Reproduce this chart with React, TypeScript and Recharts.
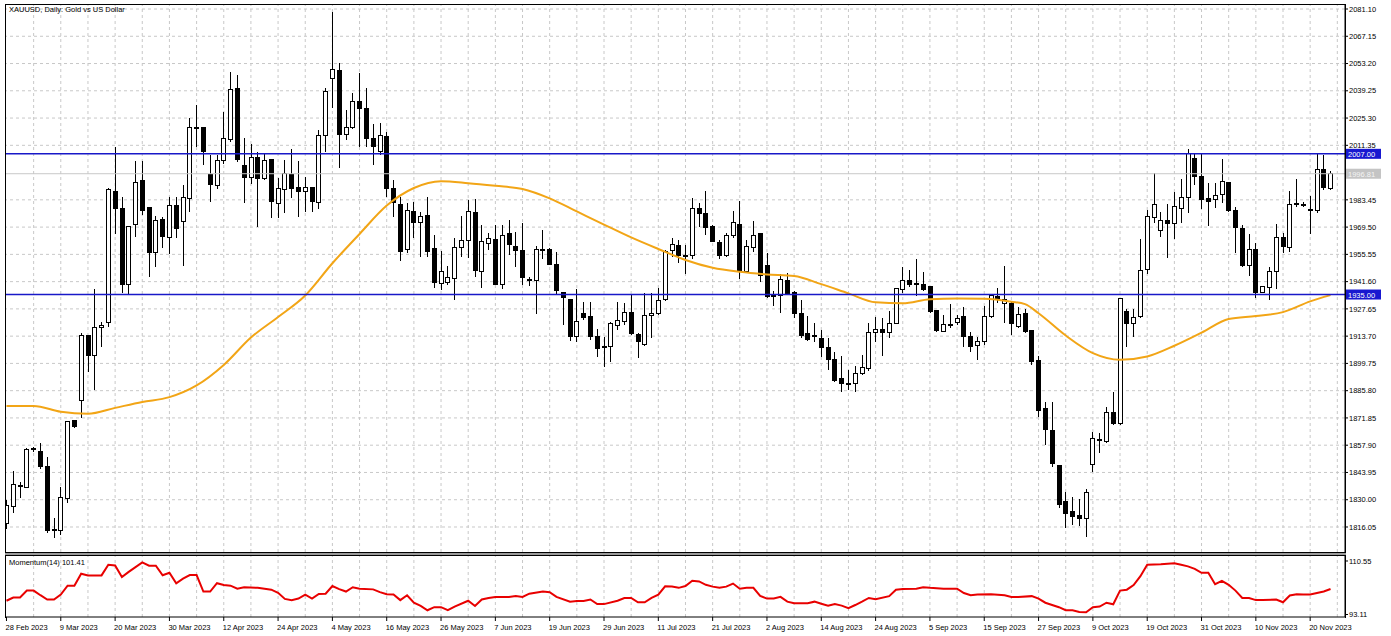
import React from 'react';
import { ComposedChart, LineChart, Bar, Line, XAxis, YAxis, ReferenceLine } from 'recharts';

// date labels shown every 8 bars
const tickLabels = [
  '28 Feb 2023', '9 Mar 2023', '20 Mar 2023', '30 Mar 2023', '12 Apr 2023', '24 Apr 2023', '4 May 2023',
  '16 May 2023', '26 May 2023', '7 Jun 2023', '19 Jun 2023', '29 Jun 2023', '11 Jul 2023', '21 Jul 2023',
  '2 Aug 2023', '14 Aug 2023', '24 Aug 2023', '5 Sep 2023', '15 Sep 2023', '27 Sep 2023', '9 Oct 2023',
  '19 Oct 2023', '31 Oct 2023', '10 Nov 2023', '20 Nov 2023',
];

const priceTicks = [
  2081.10, 2067.15, 2053.20, 2039.25, 2025.30, 2011.35, 1983.45, 1969.50, 1955.55, 1941.60,
  1927.65, 1913.70, 1899.75, 1885.80, 1871.85, 1857.90, 1843.95, 1830.00, 1816.05,
];
const momentumTicks = [110.55, 93.11];

const opens = [
  1818, 1826.4, 1837.5, 1836.3, 1855.9, 1854.9, 1847.2, 1815.0, 1814.0, 1830.7,
  1870.3, 1881.0, 1913.8, 1904.0, 1918.2, 1920.6, 1987.6, 1979.1, 1939.9, 1970.6,
  1993.3, 1979.4, 1956.6, 1973.6, 1964.1, 1980.3, 1972.3, 1984.2, 2020.0, 2020.7,
  1996.5, 1991.0, 2003.8, 2014.1, 2040.5, 2000.8, 1994.8, 2005.0, 1994.4, 2004.3,
  1981.6, 1988.8, 1996.5, 1989.7, 1987.6, 1989.7, 1982.1, 2016.6, 2045.3, 2049.5,
  2016.9, 2020.4, 2033.7, 2030.3, 2014.9, 2008.1, 2015.8, 1989.0, 1981.1, 1957.8,
  1977.7, 1971.9, 1975.3, 1958.3, 1940.7, 1941.2, 1943.3, 1958.9, 1962.4, 1977.0,
  1946.7, 1961.2, 1963.4, 1940.2, 1966.3, 1959.8, 1957.4, 1942.9, 1942.1, 1957.6,
  1957.8, 1950.6, 1936.1, 1932.5, 1913.4, 1925.4, 1923.6, 1913.7, 1908.0, 1908.3,
  1918.9, 1921.1, 1925.7, 1914.8, 1909.2, 1924.5, 1925.4, 1932.2, 1957.3, 1960.3,
  1954.9, 1954.9, 1978.8, 1976.5, 1969.7, 1961.7, 1954.9, 1965.1, 1970.9, 1946.7,
  1959.0, 1966.3, 1950.1, 1934.7, 1934.4, 1942.4, 1936.1, 1925.4, 1915.1, 1913.4,
  1912.6, 1908.0, 1901.8, 1892.1, 1889.5, 1889.5, 1894.7, 1897.2, 1915.5, 1917.2,
  1915.5, 1920.2, 1937.8, 1942.4, 1940.2, 1940.2, 1939.0, 1926.6, 1916.0, 1919.3,
  1920.8, 1923.7, 1913.4, 1908.8, 1910.9, 1923.7, 1933.9, 1930.5, 1930.5, 1918.5,
  1925.4, 1916.5, 1901.1, 1876.7, 1865.3, 1847.7, 1829.0, 1823.9, 1822.1, 1820.4,
  1848.2, 1860.9, 1859.7, 1874.5, 1869.0, 1926.2, 1920.0, 1923.7, 1947.9, 1974.5,
  1967.7, 1973.1, 1971.1, 1979.1, 1984.7, 2004.7, 1995.6, 1984.2, 1983.7, 1986.4,
  1992.2, 1977.9, 1968.9, 1949.6, 1957.8, 1935.9, 1938.7, 1946.7, 1964.3, 1959.1,
  1981.3, 1980.8, 1978.6, 1977.9, 1999.1, 1989.3,
];
const highs = [
  1830, 1844.8, 1839.2, 1856.3, 1856.8, 1858.8, 1852.0, 1820.4, 1836.3, 1870.3,
  1870.6, 1915.1, 1914.3, 1937.6, 1921.1, 1989.3, 2010.3, 1985.1, 1970.0, 2003.5,
  2003.5, 1980.0, 1975.2, 1974.8, 1984.7, 1985.0, 1991.0, 2025.2, 2032.0, 2020.9,
  2006.4, 2006.4, 2028.2, 2048.7, 2047.3, 2014.9, 2011.8, 2008.1, 2007.2, 2004.6,
  1994.8, 2003.8, 2009.4, 2003.3, 1995.3, 1990.2, 2019.2, 2040.5, 2079.4, 2053.3,
  2029.4, 2037.9, 2048.2, 2040.8, 2022.1, 2022.6, 2018.3, 1993.6, 1985.0, 1981.6,
  1982.5, 1977.4, 1985.0, 1965.4, 1957.2, 1949.7, 1963.7, 1975.3, 1983.3, 1983.9,
  1970.6, 1966.3, 1970.6, 1970.6, 1973.1, 1967.1, 1971.4, 1943.8, 1959.8, 1968.0,
  1958.6, 1956.7, 1936.5, 1932.8, 1937.6, 1931.3, 1931.3, 1917.2, 1913.4, 1921.1,
  1931.3, 1930.5, 1935.3, 1915.1, 1935.6, 1935.6, 1938.2, 1957.8, 1963.7, 1962.9,
  1960.3, 1984.6, 1981.7, 1988.0, 1970.6, 1962.9, 1966.3, 1977.7, 1982.9, 1962.9,
  1972.6, 1966.6, 1956.1, 1936.8, 1945.3, 1945.8, 1936.8, 1932.2, 1924.2, 1920.2,
  1916.8, 1912.6, 1905.7, 1903.5, 1896.4, 1898.4, 1904.0, 1920.6, 1923.7, 1922.8,
  1926.6, 1938.5, 1949.2, 1947.5, 1953.2, 1946.3, 1939.3, 1926.9, 1924.5, 1929.9,
  1924.5, 1928.8, 1915.6, 1913.4, 1929.3, 1934.8, 1938.2, 1949.8, 1931.3, 1928.8,
  1927.4, 1916.8, 1903.5, 1880.1, 1880.1, 1848.0, 1834.1, 1831.2, 1830.2, 1835.3,
  1864.8, 1864.3, 1877.6, 1885.3, 1933.3, 1927.4, 1927.4, 1963.2, 1978.2, 1997.3,
  1977.4, 1981.3, 1987.6, 1993.9, 2009.3, 2007.6, 2007.6, 1991.9, 1991.9, 2004.2,
  1992.5, 1980.0, 1970.6, 1966.0, 1961.2, 1939.3, 1949.2, 1971.1, 1966.3, 1988.1,
  1993.9, 1982.5, 1985.4, 2007.2, 2006.4, 1998.4,
];
const lows = [
  1815, 1823.3, 1830.7, 1835.8, 1854.6, 1845.5, 1812.8, 1810.2, 1811.9, 1828.1,
  1866.8, 1871.6, 1895.5, 1886.1, 1907.9, 1918.5, 1966.0, 1935.6, 1934.7, 1964.6,
  1975.7, 1944.1, 1949.2, 1958.6, 1955.6, 1964.0, 1949.7, 1977.4, 2010.6, 2001.3,
  1982.2, 1989.0, 2001.6, 2013.2, 2003.0, 1981.6, 1991.4, 1969.7, 1993.6, 1974.3,
  1974.0, 1976.5, 1984.2, 1974.8, 1977.4, 1977.4, 1978.7, 2008.1, 2030.3, 1999.6,
  2014.1, 2019.7, 2010.6, 2010.6, 2001.3, 2006.4, 1985.0, 1974.8, 1952.1, 1956.1,
  1964.1, 1954.3, 1954.3, 1938.5, 1937.3, 1939.8, 1932.2, 1954.3, 1953.5, 1944.0,
  1938.1, 1958.0, 1939.8, 1938.0, 1955.2, 1949.3, 1939.9, 1939.4, 1925.0, 1953.0,
  1950.0, 1935.0, 1919.4, 1911.0, 1910.9, 1922.0, 1911.7, 1903.2, 1898.1, 1900.6,
  1916.8, 1919.4, 1914.3, 1902.3, 1908.6, 1912.6, 1924.5, 1931.8, 1954.4, 1950.9,
  1945.3, 1953.0, 1969.7, 1965.4, 1961.7, 1953.1, 1954.3, 1963.7, 1942.9, 1945.8,
  1956.9, 1941.6, 1933.4, 1929.3, 1925.4, 1934.7, 1923.1, 1913.0, 1911.0, 1910.8,
  1903.2, 1896.5, 1890.0, 1885.3, 1886.1, 1885.3, 1893.8, 1896.0, 1910.9, 1903.5,
  1912.6, 1919.7, 1935.6, 1939.0, 1934.4, 1936.8, 1925.4, 1915.6, 1915.6, 1917.7,
  1919.4, 1908.3, 1905.7, 1901.5, 1909.0, 1923.0, 1930.5, 1920.2, 1914.3, 1917.7,
  1915.5, 1898.9, 1872.5, 1858.0, 1846.9, 1826.0, 1815.3, 1817.0, 1816.5, 1811.1,
  1844.3, 1853.7, 1859.0, 1868.0, 1868.0, 1908.3, 1913.1, 1923.0, 1945.5, 1971.7,
  1964.2, 1953.5, 1963.2, 1971.8, 1976.9, 1991.0, 1978.6, 1970.1, 1979.1, 1981.6,
  1977.0, 1956.1, 1949.0, 1944.5, 1933.0, 1935.6, 1932.2, 1937.6, 1956.1, 1957.0,
  1979.9, 1979.6, 1966.0, 1976.5, 1988.5, 1988.5,
];
const closes = [
  1827, 1838.0, 1837.0, 1855.8, 1856.2, 1846.9, 1814.5, 1814.5, 1831.0, 1869.9,
  1867.4, 1913.8, 1904.0, 1918.2, 1919.4, 1988.5, 1979.1, 1939.9, 1969.7, 1992.2,
  1977.9, 1956.6, 1973.1, 1964.6, 1980.3, 1968.9, 1984.5, 2020.4, 2020.6, 2008.1,
  1991.4, 2003.8, 2014.9, 2040.0, 2004.1, 1994.8, 2005.0, 1994.4, 2003.8, 1982.5,
  1989.3, 1997.0, 1989.3, 1987.6, 1989.7, 1982.5, 2016.3, 2039.1, 2049.9, 2017.0,
  2020.4, 2034.0, 2030.3, 2014.6, 2010.6, 2016.3, 1989.0, 1982.1, 1957.2, 1978.2,
  1971.9, 1974.8, 1956.9, 1941.2, 1946.7, 1943.6, 1958.9, 1962.9, 1977.4, 1947.5,
  1962.0, 1963.7, 1940.2, 1965.4, 1960.8, 1957.4, 1943.8, 1942.1, 1958.1, 1957.8,
  1950.6, 1937.0, 1933.5, 1913.4, 1921.1, 1923.3, 1913.7, 1907.5, 1908.3, 1920.2,
  1921.6, 1925.7, 1915.1, 1910.9, 1924.5, 1925.4, 1931.8, 1956.9, 1960.7, 1954.9,
  1955.0, 1979.1, 1976.5, 1969.2, 1962.0, 1954.9, 1965.1, 1971.9, 1947.5, 1959.5,
  1965.1, 1944.6, 1933.9, 1933.9, 1942.9, 1935.6, 1925.4, 1913.9, 1912.2, 1914.2,
  1908.0, 1901.8, 1891.2, 1889.5, 1889.6, 1894.7, 1897.6, 1915.5, 1917.2, 1915.5,
  1920.2, 1938.2, 1942.4, 1939.9, 1940.4, 1937.8, 1926.2, 1916.8, 1919.7, 1919.5,
  1922.5, 1913.4, 1908.3, 1910.9, 1923.7, 1934.4, 1932.2, 1932.2, 1920.2, 1925.0,
  1916.0, 1900.6, 1875.5, 1865.7, 1848.6, 1827.8, 1823.0, 1821.6, 1820.4, 1833.6,
  1861.4, 1860.2, 1874.5, 1869.0, 1933.0, 1920.0, 1923.3, 1947.5, 1974.8, 1981.3,
  1973.1, 1971.1, 1979.8, 1984.7, 2007.3, 1995.6, 1983.4, 1982.5, 1985.9, 1992.7,
  1977.9, 1969.4, 1949.6, 1957.8, 1935.9, 1939.0, 1946.7, 1964.3, 1959.5, 1981.3,
  1981.5, 1981.0, 1977.9, 1999.1, 1989.8, 1996.8,
];

// moving average, read at bar index
const maPoints: [number, number][] = [
  [0, 1878], [4, 1878], [8, 1875], [12, 1874], [16, 1877], [20, 1880], [24, 1882.5], [28, 1888.5],
  [32, 1899], [36, 1913], [40, 1923.5], [44, 1934.5], [48, 1951], [52, 1966], [56, 1980.5], [60, 1989.5],
  [64, 1993], [68, 1992], [72, 1990.6], [76, 1989], [80, 1984.2], [84, 1977.5], [88, 1970.8], [92, 1964.2],
  [96, 1958.3], [100, 1952.7], [104, 1948.7], [108, 1946.6], [112, 1945.3], [116, 1944.5], [120, 1940.3],
  [124, 1935.6], [128, 1931], [132, 1930.5], [136, 1932.6], [140, 1933], [144, 1932.8], [148, 1931.3],
  [150, 1930.1], [152, 1925.4], [156, 1914], [160, 1905], [164, 1901.6], [168, 1903.3], [172, 1908.8],
  [176, 1915.5], [180, 1922.5], [184, 1924], [188, 1926], [192, 1931.5], [195, 1934.7],
];

// Momentum(14), read at bar index
const momentumPoints: [number, number][] = [
  [0, 97.6], [1, 98.65], [2, 98.65], [3, 100.9], [4, 100.9], [5, 99.4], [6, 98.0], [7, 98.0], [8, 99.6],
  [9, 102.5], [10, 102.5], [11, 106.4], [12, 105.85], [14, 105.85], [15, 109.3], [16, 109.1], [17, 105.3],
  [18, 107.0], [20, 110.1], [21, 109.0], [22, 109.0], [23, 105.9], [24, 106.7], [25, 103.3], [26, 104.8],
  [27, 105.95], [28, 105.95], [29, 100.6], [30, 100.6], [31, 103.3], [32, 102.7], [33, 102.5], [34, 101.5],
  [35, 102.0], [37, 101.8], [39, 101.2], [40, 100.2], [41, 98.2], [42, 97.8], [43, 98.3], [44, 99.6],
  [45, 98.3], [46, 99.8], [47, 99.9], [48, 102.4], [49, 101.4], [50, 100.6], [51, 102.0], [52, 101.5],
  [54, 101.3], [55, 100.4], [56, 99.7], [57, 99.6], [58, 97.8], [59, 99.4], [60, 97.0], [61, 95.9],
  [62, 94.5], [63, 95.5], [64, 95.5], [65, 94.5], [66, 95.7], [68, 97.6], [69, 95.9], [70, 98.0],
  [71, 98.5], [72, 98.85], [74, 98.85], [75, 99.1], [76, 98.85], [77, 99.9], [79, 100.6], [80, 100.4],
  [81, 98.85], [83, 97.3], [84, 97.5], [85, 97.5], [86, 98.0], [87, 96.5], [88, 96.5], [90, 97.6],
  [91, 98.5], [92, 98.5], [93, 97.1], [94, 97.1], [95, 98.5], [96, 99.6], [97, 102.3], [98, 102.2],
  [99, 101.8], [100, 102.4], [101, 104.1], [102, 103.9], [103, 102.8], [104, 102.2], [105, 101.8],
  [106, 102.2], [107, 103.2], [108, 101.5], [109, 101.8], [110, 101.8], [111, 99.2], [112, 98.3],
  [113, 98.3], [114, 98.85], [115, 97.3], [116, 96.8], [118, 96.8], [119, 97.3], [120, 96.6], [121, 96.0],
  [122, 96.5], [123, 96.0], [124, 95.2], [125, 96.2], [126, 97.3], [127, 98.5], [128, 98.1], [130, 99.1],
  [131, 101.2], [132, 101.4], [134, 101.5], [135, 102.0], [136, 101.8], [138, 101.5], [140, 101.5],
  [141, 100.1], [142, 99.4], [143, 99.6], [145, 99.7], [147, 99.4], [148, 98.85], [149, 98.85],
  [151, 99.1], [152, 98.3], [153, 96.95], [155, 95.5], [156, 94.5], [157, 94.5], [158, 93.95],
  [159, 93.85], [160, 95.5], [161, 95.7], [162, 96.95], [163, 96.45], [164, 100.9], [165, 101.2],
  [166, 102.7], [167, 105.6], [168, 109.3], [170, 109.5], [172, 109.8], [173, 109.3], [174, 108.8],
  [175, 108.0], [176, 106.7], [177, 106.7], [178, 103.0], [179, 104.1], [180, 102.8], [181, 100.9],
  [182, 98.5], [183, 98.5], [184, 97.8], [185, 97.8], [187, 98.0], [188, 97.1], [189, 99.3], [190, 99.7],
  [191, 99.6], [192, 99.6], [193, 100.1], [194, 100.6], [195, 101.41],
];

const levels = [2007.0, 1935.0];
const lastPrice = 1996.81;

const candles = opens.map((o, i) => ({ i, o, h: highs[i], l: lows[i], c: closes[i], range: [lows[i], highs[i]] }));
const maData = maPoints.map(([i, v]) => ({ i, ma: v }));
const momData = momentumPoints.map(([i, v]) => ({ i, mom: v }));
const gridTicks = Array.from({ length: 50 }, (_, k) => k * 4);

const X_DOMAIN: [number, number] = [-0.07, 197.13];
const PRICE_DOMAIN: [number, number] = [1803.25, 2083.15];
const MOM_DOMAIN: [number, number] = [92.3, 112.5];
const FONT = '"Liberation Sans", Arial, sans-serif';
const GRID = '#c8c8c8';

const Candle = (props: any) => {
  const { x, y, width, height, payload } = props;
  if (!payload || height == null) return null;
  const { o, h, l, c } = payload;
  const top = height < 0 ? y + height : y;
  const hh = Math.abs(height);
  const cx = Math.floor(x + width / 2) + 0.5;
  const k = h > l ? hh / (h - l) : 0;
  const py = (v: number) => top + (h - v) * k;
  const bTop = py(Math.max(o, c));
  const bBot = py(Math.min(o, c));
  return (
    <g shapeRendering="crispEdges">
      <line x1={cx} x2={cx} y1={top} y2={top + hh} stroke="#000" />
      <rect x={cx - 2} y={bTop} width={4} height={Math.max(bBot - bTop, 0.8)} fill={c >= o ? '#fff' : '#000'} stroke="#000" />
    </g>
  );
};

const PriceTag = ({ viewBox, text, bg, color }: any) => {
  if (!viewBox) return null;
  const x = viewBox.x + viewBox.width + 1;
  const y = viewBox.y;
  return (
    <g>
      <rect x={x} y={y - 5} width={35} height={10} fill={bg} />
      <text x={x + 2} y={y + 3} fontSize={7.5} fill={color} fontFamily={FONT}>{text}</text>
    </g>
  );
};

const DateTick = ({ x, y, payload }: any) => {
  const v = payload.value;
  if (v % 8 !== 0 || !tickLabels[v / 8]) return <g />;
  return (
    <g>
      <line x1={x} x2={x} y1={y} y2={y + 4} stroke="#000" />
      <text x={x - 1} y={y + 13} fontSize={7.5} fill="#000" fontFamily={FONT}>{tickLabels[v / 8]}</text>
    </g>
  );
};

// background layer: dotted grid drawn underneath the series
function GridLayer({ height, top, yDomain, yTicks, xHeight }: any) {
  return (
    <ComposedChart width={1391} height={height} data={candles} margin={{ top, right: 0, left: 6, bottom: 0 }}>
      <XAxis type="number" dataKey="i" domain={X_DOMAIN} ticks={gridTicks} allowDataOverflow interval={0}
        height={xHeight} tick={false} tickLine={false} axisLine={false} />
      <YAxis orientation="right" type="number" domain={yDomain} allowDataOverflow
        width={46} tick={false} tickLine={false} axisLine={false} />
      {yTicks.map((t: number) => (
        <ReferenceLine key={`h${t}`} y={t} stroke={GRID} strokeDasharray="3 3" />
      ))}
      {gridTicks.slice(1).map((t) => (
        <ReferenceLine key={`v${t}`} x={t} stroke={GRID} strokeDasharray="3 3" />
      ))}
    </ComposedChart>
  );
}

export default function App() {
  return (
    <div style={{ position: 'absolute', left: 0, top: 0, width: 1391, height: 636, background: '#fff', fontFamily: FONT }}>
      <div style={{ position: 'absolute', left: 0, top: 0 }}>
        <GridLayer height={553} top={5} yDomain={PRICE_DOMAIN} yTicks={priceTicks} xHeight={1} />
      </div>
      <div style={{ position: 'absolute', left: 0, top: 0 }}>
        <ComposedChart width={1391} height={553} data={candles} margin={{ top: 5, right: 0, left: 6, bottom: 0 }}>
          <XAxis type="number" dataKey="i" domain={X_DOMAIN} ticks={gridTicks} allowDataOverflow interval={0}
            height={1} tick={false} tickLine={false} axisLine={false} />
          <YAxis orientation="right" type="number" domain={PRICE_DOMAIN} ticks={priceTicks} allowDataOverflow
            interval={0} width={46} tickSize={3} tickMargin={1}
            tick={{ fontSize: 7.5, fill: '#000' }} tickFormatter={(v: number) => v.toFixed(2)}
            axisLine={{ stroke: '#000' }} tickLine={{ stroke: '#000' }} />
          <ReferenceLine y={lastPrice} stroke="#c8c8c8" strokeWidth={1}
            label={<PriceTag text={lastPrice.toFixed(2)} bg="#c4c4c4" color="#f4f4f4" />} />
          <Bar dataKey="range" barSize={5} shape={<Candle />} isAnimationActive={false} />
          <Line data={maData} dataKey="ma" type="monotone" stroke="#f2a516" strokeWidth={2} dot={false} isAnimationActive={false} />
          {levels.map((lv) => (
            <ReferenceLine key={lv} y={lv} stroke="#1818c8" strokeWidth={1.5}
              label={<PriceTag text={lv.toFixed(2)} bg="#1818d0" color="#fff" />} />
          ))}
        </ComposedChart>
      </div>
      <div style={{ position: 'absolute', left: 0, top: 553 }}>
        <GridLayer height={83} top={2} yDomain={MOM_DOMAIN} yTicks={[]} xHeight={19} />
      </div>
      <div style={{ position: 'absolute', left: 0, top: 553 }}>
        <LineChart width={1391} height={83} data={momData} margin={{ top: 2, right: 0, left: 6, bottom: 0 }}>
          <XAxis type="number" dataKey="i" domain={X_DOMAIN} ticks={gridTicks} allowDataOverflow interval={0}
            height={19} tick={<DateTick />} tickLine={false} tickSize={0} tickMargin={0} axisLine={{ stroke: '#000' }} />
          <YAxis orientation="right" type="number" domain={MOM_DOMAIN} ticks={momentumTicks} allowDataOverflow
            interval={0} width={46} tickSize={3} tickMargin={1}
            tick={{ fontSize: 7.5, fill: '#000' }} tickFormatter={(v: number) => v.toFixed(2)}
            axisLine={{ stroke: '#000' }} tickLine={{ stroke: '#000' }} />
          <Line dataKey="mom" type="linear" stroke="#e80000" strokeWidth={2} dot={false} isAnimationActive={false} />
        </LineChart>
      </div>
      <div style={{ position: 'absolute', left: 5, top: 4, width: 1341, height: 549, border: '1px solid #000', boxSizing: 'border-box', pointerEvents: 'none' }} />
      <div style={{ position: 'absolute', left: 5, top: 553, width: 1341, height: 2, background: '#9a9a9a', pointerEvents: 'none' }} />
      <div style={{ position: 'absolute', left: 5, top: 555, width: 1341, height: 63, border: '1px solid #000', borderBottom: 'none', boxSizing: 'border-box', pointerEvents: 'none' }} />
      <div style={{ position: 'absolute', left: 9, top: 6, fontSize: 7.5, lineHeight: 1, color: '#000', whiteSpace: 'nowrap' }}>
        XAUUSD, Daily:  Gold vs US Dollar
      </div>
      <div style={{ position: 'absolute', left: 9, top: 559, fontSize: 7.5, lineHeight: 1, color: '#000', whiteSpace: 'nowrap' }}>
        Momentum(14) 101.41
      </div>
    </div>
  );
}
